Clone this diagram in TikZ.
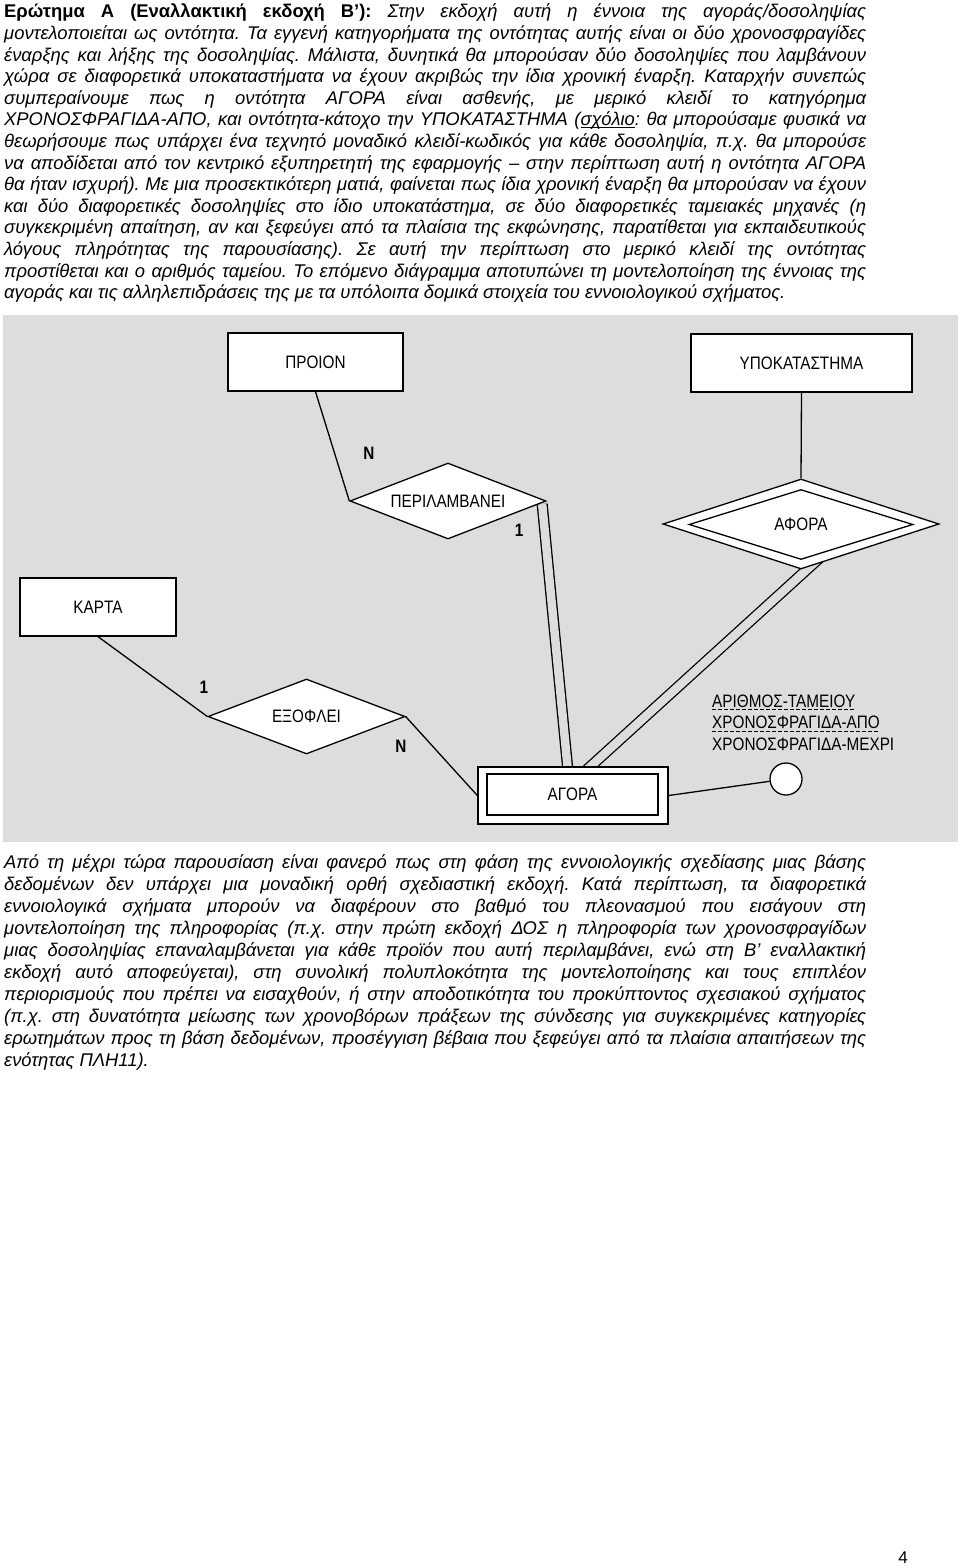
\documentclass[tikz,border=0pt]{standalone}
\usepackage{fontspec}
\setmainfont{Liberation Sans}
\newfontfamily\dfont[FakeStretch=0.85]{Liberation Sans}
\usetikzlibrary{shapes.geometric,calc}
\definecolor{bggray}{RGB}{221,221,221}
\pgfdeclarelayer{back}
\pgfdeclarelayer{edges}
\pgfsetlayers{back,edges,main}
\newcommand{\jline}[1]{\noindent\makebox[862pt][s]{#1}\par}
\newcommand{\eline}[1]{\noindent\mbox{#1}\par}
\newcommand{\myul}[1]{\setbox0\hbox{#1}\rlap{\rule[-2.2pt]{\wd0}{0.9pt}}\box0}
\tikzset{
  ent/.style={draw, fill=white, line width=1.3pt, inner sep=0pt, font=\dfont\fontsize{18}{20}\selectfont},
  rel/.style={diamond, aspect=2.6, draw, fill=white, line width=1.3pt, inner sep=0pt, font=\dfont\fontsize{18}{20}\selectfont},
  conn/.style={line width=1.3pt},
  dbl/.style={line width=1.3pt, double=bggray, double distance=8.5pt},
  lab/.style={inner sep=0pt, font=\dfont\bfseries\fontsize{18}{20}\selectfont},
  atxt/.style={inner sep=0pt, anchor=base west, font=\dfont\fontsize{18}{20}\selectfont},
  uline/.style={line width=1pt, dash pattern=on 4pt off 2pt},
  body/.style={inner sep=0pt, anchor=base west}
}
\begin{document}
\begin{tikzpicture}[x=1pt,y=-1pt]
\useasboundingbox (0,0) rectangle (960,1568);
\begin{pgfonlayer}{back}
\fill[white] (0,0) rectangle (960,1568);
\fill[bggray] (3,315) rectangle (958,842);
\end{pgfonlayer}

% ---- text block 1
\node[body] (para1) at (4,18) {\begin{minipage}[t]{862pt}\fontsize{18.4}{21.6}\selectfont\itshape\frenchspacing\parindent=0pt\parskip=0pt
\jline{\textbf{\upshape Ερώτημα Α (Εναλλακτική εκδοχή Β’):} Στην εκδοχή αυτή η έννοια της αγοράς/δοσοληψίας}
\jline{μοντελοποιείται ως οντότητα. Τα εγγενή κατηγορήματα της οντότητας αυτής είναι οι δύο χρονοσφραγίδες}
\jline{έναρξης και λήξης της δοσοληψίας. Μάλιστα, δυνητικά θα μπορούσαν δύο δοσοληψίες που λαμβάνουν}
\jline{χώρα σε διαφορετικά υποκαταστήματα να έχουν ακριβώς την ίδια χρονική έναρξη. Καταρχήν συνεπώς}
\jline{συμπεραίνουμε πως η οντότητα ΑΓΟΡΑ είναι ασθενής, με μερικό κλειδί το κατηγόρημα}
\jline{ΧΡΟΝΟΣΦΡΑΓΙΔΑ-ΑΠΟ, και οντότητα-κάτοχο την ΥΠΟΚΑΤΑΣΤΗΜΑ (\myul{σχόλιο}: θα μπορούσαμε φυσικά να}
\jline{θεωρήσουμε πως υπάρχει ένα τεχνητό μοναδικό κλειδί-κωδικός για κάθε δοσοληψία, π.χ. θα μπορούσε}
\jline{να αποδίδεται από τον κεντρικό εξυπηρετητή της εφαρμογής – στην περίπτωση αυτή η οντότητα ΑΓΟΡΑ}
\jline{θα ήταν ισχυρή). Με μια προσεκτικότερη ματιά, φαίνεται πως ίδια χρονική έναρξη θα μπορούσαν να έχουν}
\jline{και δύο διαφορετικές δοσοληψίες στο ίδιο υποκατάστημα, σε δύο διαφορετικές ταμειακές μηχανές (η}
\jline{συγκεκριμένη απαίτηση, αν και ξεφεύγει από τα πλαίσια της εκφώνησης, παρατίθεται για εκπαιδευτικούς}
\jline{λόγους πληρότητας της παρουσίασης). Σε αυτή την περίπτωση στο μερικό κλειδί της οντότητας}
\jline{προστίθεται και ο αριθμός ταμείου. Το επόμενο διάγραμμα αποτυπώνει τη μοντελοποίηση της έννοιας της}
\eline{αγοράς και τις αλληλεπιδράσεις της με τα υπόλοιπα δομικά στοιχεία του εννοιολογικού σχήματος.}
\end{minipage}};

% ---- diagram nodes
\node[ent, minimum width=175pt, minimum height=58pt] (proion) at (315.5,362) {ΠΡΟΙΟΝ};
\node[ent, minimum width=221pt, minimum height=58pt] (ypok) at (801.5,363) {ΥΠΟΚΑΤΑΣΤΗΜΑ};
\node[rel, minimum width=196pt, minimum height=76pt] (peri) at (448,501) {ΠΕΡΙΛΑΜΒΑΝΕΙ};
\node[rel, minimum width=276pt, minimum height=90pt] (afora) at (801,524) {};
\node[rel, minimum width=224pt, minimum height=70pt] (aforain) at (801,524.5) {ΑΦΟΡΑ};
\node[ent, minimum width=156pt, minimum height=58pt] (karta) at (98,607) {ΚΑΡΤΑ};
\node[rel, minimum width=197pt, minimum height=75pt] (exo) at (306.5,716.5) {ΕΞΟΦΛΕΙ};
\node[ent, minimum width=190pt, minimum height=57pt] (agora) at (573,795.5) {};
\node[ent, minimum width=171pt, minimum height=41pt] (agorain) at (572.5,794.5) {ΑΓΟΡΑ};
\node[draw, circle, fill=white, line width=1.3pt, minimum size=32pt, inner sep=0pt] (attr) at (786,779) {};

% ---- cardinality labels
\node[lab] (cn1) at (369,453) {N};
\node[lab] (c11) at (519,530) {1};
\node[lab] (c12) at (204,687) {1};
\node[lab] (cn2) at (401,746) {N};

% ---- attribute texts
\node[atxt] (a1) at (712,707) {ΑΡΙΘΜΟΣ-ΤΑΜΕΙΟΥ};
\node[atxt] (a2) at (712,728.5) {ΧΡΟΝΟΣΦΡΑΓΙΔΑ-ΑΠΟ};
\node[atxt] (a3) at (712,750) {ΧΡΟΝΟΣΦΡΑΓΙΔΑ-ΜΕΧΡΙ};
\draw[uline] ($(a1.base west)+(0,2.5)$) -- ($(a1.base east)+(0,2.5)$);
\draw[uline] ($(a2.base west)+(0,2.5)$) -- ($(a2.base east)+(0,2.5)$);

% ---- connectors
\begin{pgfonlayer}{edges}
\draw[conn] (proion.south) -- (peri.west);
\draw[conn] (ypok.south) -- (afora.north);
\draw[conn] (karta.south) -- (exo.west);
\draw[conn] (exo.east) -- (agora.west);
\draw[conn] (agora.east) -- (attr);
\draw[dbl] ($(peri.east)+(-4.5,3)$) -- ($(agora.north)+(-5.2,3)$);
\draw[dbl] ($(afora.south)+(19,-12)$) -- ($(agora.north)+(13.7,3.5)$);
\end{pgfonlayer}

% ---- text block 2
\node[body] (para2) at (4,868) {\begin{minipage}[t]{862pt}\fontsize{18.4}{22}\selectfont\itshape\frenchspacing\parindent=0pt\parskip=0pt
\jline{Από τη μέχρι τώρα παρουσίαση είναι φανερό πως στη φάση της εννοιολογικής σχεδίασης μιας βάσης}
\jline{δεδομένων δεν υπάρχει μια μοναδική ορθή σχεδιαστική εκδοχή. Κατά περίπτωση, τα διαφορετικά}
\jline{εννοιολογικά σχήματα μπορούν να διαφέρουν στο βαθμό του πλεονασμού που εισάγουν στη}
\jline{μοντελοποίηση της πληροφορίας (π.χ. στην πρώτη εκδοχή ΔΟΣ η πληροφορία των χρονοσφραγίδων}
\jline{μιας δοσοληψίας επαναλαμβάνεται για κάθε προϊόν που αυτή περιλαμβάνει, ενώ στη Β’ εναλλακτική}
\jline{εκδοχή αυτό αποφεύγεται), στη συνολική πολυπλοκότητα της μοντελοποίησης και τους επιπλέον}
\jline{περιορισμούς που πρέπει να εισαχθούν, ή στην αποδοτικότητα του προκύπτοντος σχεσιακού σχήματος}
\jline{(π.χ. στη δυνατότητα μείωσης των χρονοβόρων πράξεων της σύνδεσης για συγκεκριμένες κατηγορίες}
\jline{ερωτημάτων προς τη βάση δεδομένων, προσέγγιση βέβαια που ξεφεύγει από τα πλαίσια απαιτήσεων της}
\eline{ενότητας ΠΛΗ11).}
\end{minipage}};

% ---- page number
\node[inner sep=0pt, font=\fontsize{17}{20}\selectfont] (pg) at (903,1558) {4};
\end{tikzpicture}
\end{document}
